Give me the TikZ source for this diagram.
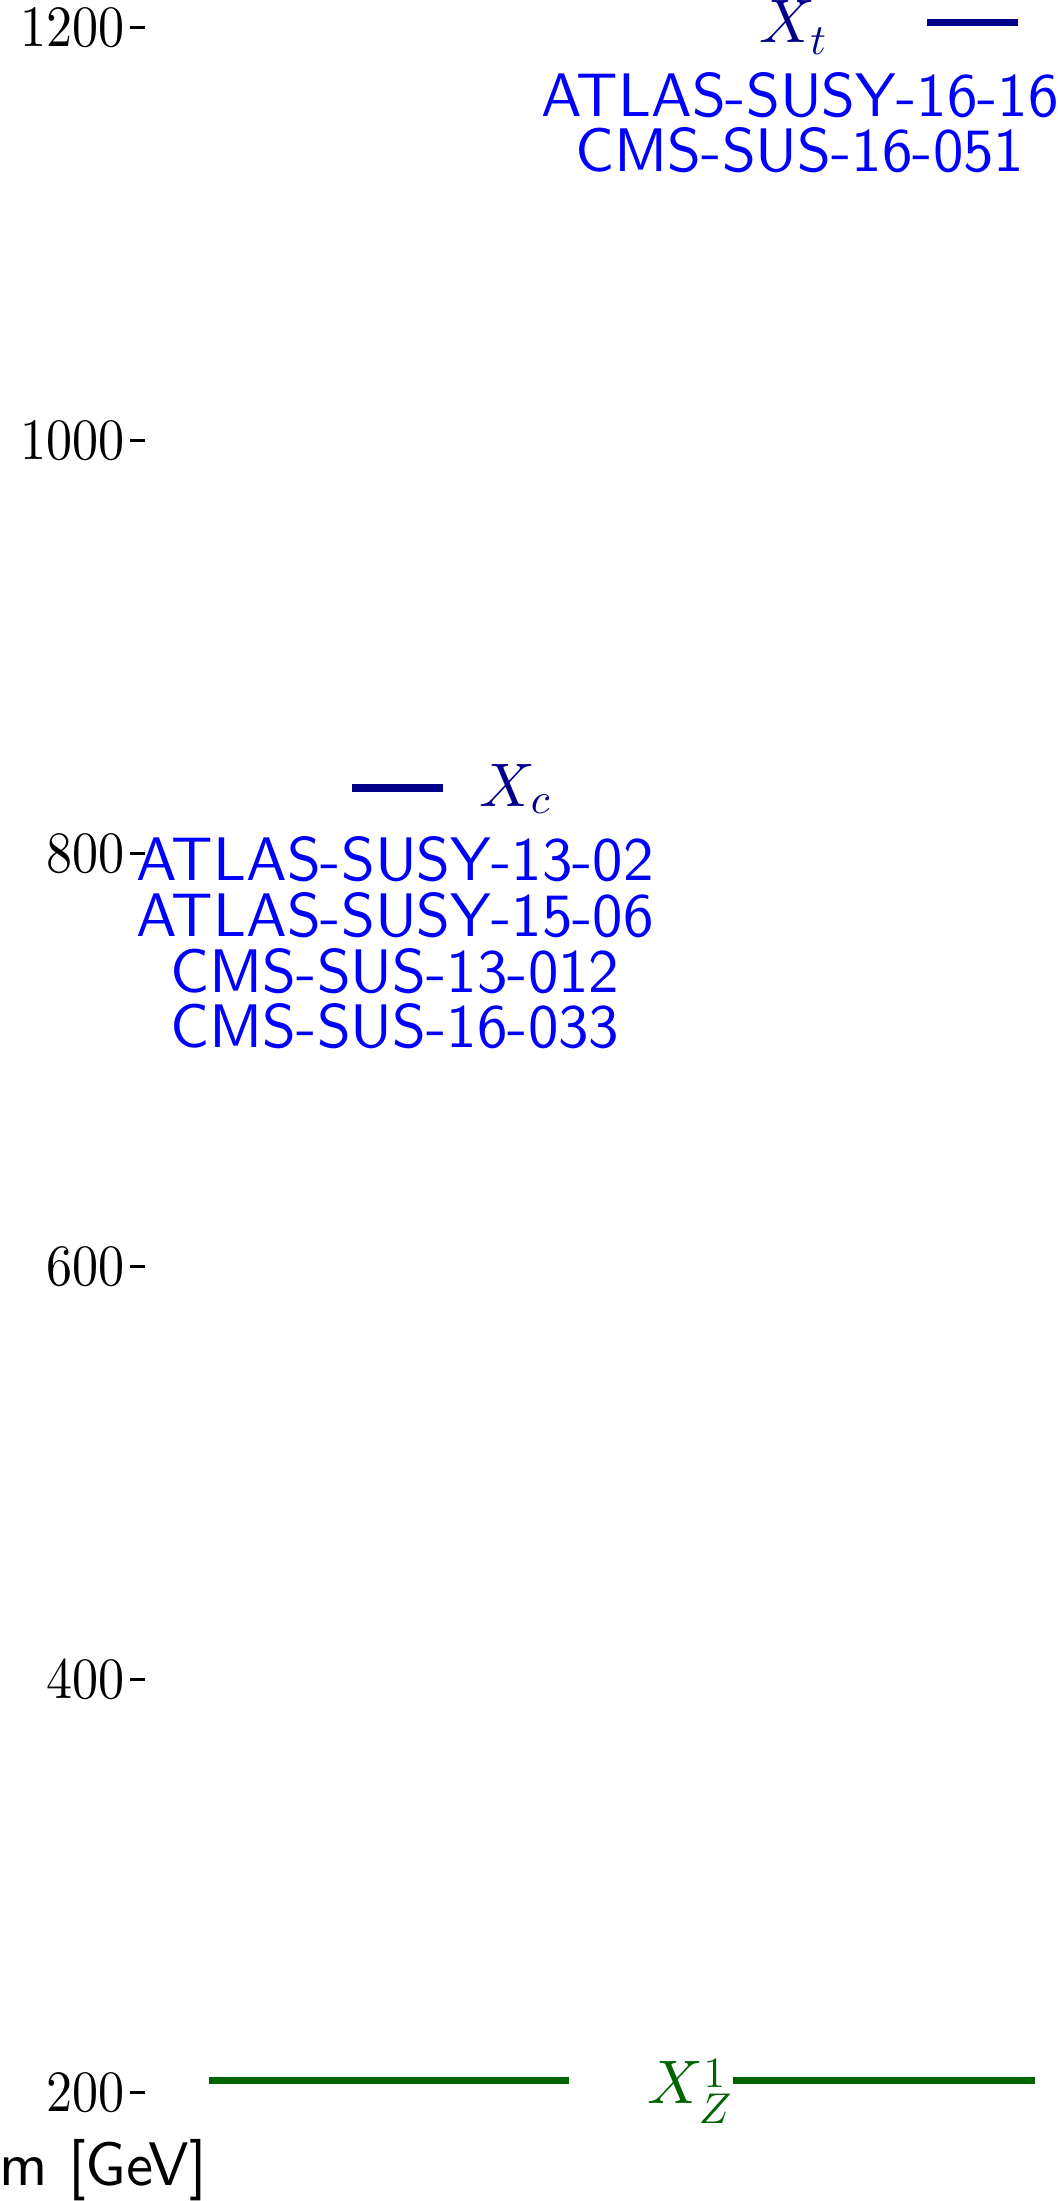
\documentclass[tikz,border=0pt]{standalone}
\usepackage{fontspec}
\usepackage{amsmath}
\usetikzlibrary{positioning}
\DeclareFontShape{OML}{cmm}{m}{it}{<->cmmi10}{}
\DeclareFontShape{OT1}{cmr}{m}{n}{<->cmr10}{}
\newfontfamily\lblfont[Extension=.otf,FakeStretch=0.99]{lmsans10-regular}
\newfontfamily\tickfont[Extension=.otf,FakeStretch=0.89]{lmroman10-regular}
\definecolor{refblue}{RGB}{0,0,255}
\definecolor{lvlblue}{RGB}{0,0,139}
\definecolor{lvlgreen}{RGB}{0,100,0}

\begin{document}
\begin{tikzpicture}[x=0.02cm,y=0.0413cm,
  lvl/.style={line width=4pt},
  reflabel/.style={text=refblue,font=\lblfont\fontsize{35}{42}\selectfont,inner sep=0pt,anchor=base},
  statelabel/.style={font=\fontsize{35}{42}\selectfont,inner sep=0pt,anchor=base},
  ticklabel/.style={font=\tickfont\fontsize{33.3}{40}\selectfont,inner sep=0pt,anchor=east}]
  \useasboundingbox (0,147.46) rectangle (1057,1213.3);
  % mass axis
  \foreach \m in {200,400,...,1200}{
    \node[ticklabel] (lab\m) at (125,\m) {\m};
    \coordinate (ts\m) at (130,\m);
    \coordinate (te\m) at (145,\m);
    \draw[line width=1.9pt] (ts\m) -- (te\m);
  }
  \node[font=\lblfont\fontsize{35}{42}\selectfont,inner sep=0pt,anchor=base east] (axis) at (207,155.2) {m [GeV]};
  % levels
  \coordinate (xtL) at (927,1202.3);
  \coordinate (xtR) at (1018,1202.3);
  \draw[lvl,lvlblue] (xtL) -- (xtR);
  \node[statelabel,text=lvlblue] (xt) at (793,1192.5) {$X_t$};
  \coordinate (xcL) at (352,831.7);
  \coordinate (xcR) at (443,831.7);
  \draw[lvl,lvlblue] (xcL) -- (xcR);
  \node[statelabel,text=lvlblue] (xc) at (515,822.5) {$X_c$};
  \coordinate (xzA) at (209,205.6);
  \coordinate (xzB) at (569,205.6);
  \coordinate (xzC) at (733,205.6);
  \coordinate (xzD) at (1035,205.6);
  \draw[lvl,lvlgreen] (xzA) -- (xzB);
  \draw[lvl,lvlgreen] (xzC) -- (xzD);
  \node[statelabel,text=lvlgreen] (xz) at (690,194.9) {$X_Z^1$};
  % analyses
  \foreach \lab [count=\i] in {ATLAS-SUSY-16-16,CMS-SUS-16-051}
    \node[reflabel] (xtref\i) at (800,{1157.1-(\i-1)*26.8}) {\lab};
  \foreach \lab [count=\i] in {ATLAS-SUSY-13-02,ATLAS-SUSY-15-06,CMS-SUS-13-012,CMS-SUS-16-033}
    \node[reflabel] (xcref\i) at (395,{786.7-(\i-1)*26.9}) {\lab};
\end{tikzpicture}
\end{document}
